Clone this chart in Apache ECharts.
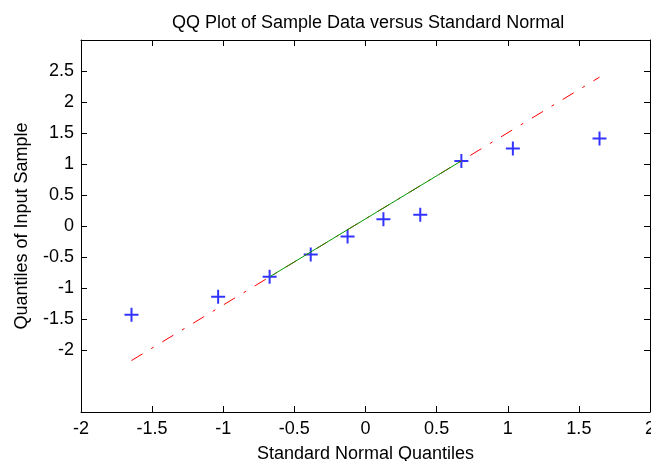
<!DOCTYPE html>
<html>
<head>
<meta charset="utf-8">
<script src="https://cdn.jsdelivr.net/npm/echarts@6/dist/echarts.min.js"></script>
<style>
html,body{margin:0;padding:0;background:#fff;}
#chart{width:651px;height:461px;}
</style>
</head>
<body>
<div id="chart"></div>
<script>
// Sample quantiles (blue + markers)
var normalQuantiles = [-1.645, -1.036, -0.674, -0.385, -0.126, 0.126, 0.385, 0.674, 1.036, 1.645];
var sampleQuantiles = [-1.43, -1.14, -0.82, -0.46, -0.17, 0.11, 0.18, 1.05, 1.25, 1.41];
// Extended fit line (red dash-dot)
var fitX = [-1.645, 1.645];
var fitY = [-2.17, 2.40];
// Inter-quartile line (green solid)
var iqrX = [-0.674, 0.674];
var iqrY = [-0.82, 1.05];
// Tick labels shown on the y axis
var yTickValues = [-2, -1.5, -1, -0.5, 0, 0.5, 1, 1.5, 2, 2.5];

function pairs(xs, ys){ return xs.map(function(x,i){ return [x, ys[i]]; }); }

var font = 'Liberation Sans, Arial, sans-serif';
var fs = 18;
var chart = echarts.init(document.getElementById('chart'), null, {renderer:'canvas'});
var axisLine = {show:true, onZero:false, lineStyle:{color:'#000', width:1}};
chart.setOption({
  animation:false,
  backgroundColor:'#fff',
  title:{
    text:'QQ Plot of Sample Data versus Standard Normal',
    left:167, top:9,
    textStyle:{fontFamily:font, fontSize:fs, fontWeight:'normal', color:'#000'}
  },
  grid:{left:81, right:1, top:40, bottom:49, containLabel:false, outerBoundsMode:'none'},
  xAxis:[{
    type:'value', position:'bottom', min:-2, max:2, interval:0.5,
    name:'Standard Normal Quantiles', nameLocation:'middle', nameGap:33,
    nameTextStyle:{fontFamily:font, fontSize:fs, color:'#000'},
    axisLine:axisLine,
    axisTick:{show:true, inside:true, length:6, lineStyle:{color:'#000'}},
    axisLabel:{fontFamily:font, fontSize:fs, color:'#000', margin:8},
    splitLine:{show:false}
  },{
    type:'value', position:'top', min:-2, max:2, interval:0.5,
    axisLine:axisLine,
    axisTick:{show:true, inside:true, length:6, lineStyle:{color:'#000'}},
    axisLabel:{show:false},
    splitLine:{show:false}
  }],
  yAxis:[{
    type:'value', position:'left', min:-3, max:3, interval:0.5,
    name:'Quantiles of Input Sample', nameLocation:'middle', nameGap:50,
    nameTextStyle:{fontFamily:font, fontSize:fs, color:'#000'},
    axisLine:axisLine,
    axisTick:{show:true, inside:true, length:6, customValues:yTickValues, lineStyle:{color:'#000'}},
    axisLabel:{fontFamily:font, fontSize:fs, color:'#000', margin:7, customValues:yTickValues},
    splitLine:{show:false}
  },{
    type:'value', position:'right', min:-3, max:3, interval:0.5,
    axisLine:axisLine,
    axisTick:{show:true, inside:true, length:6, customValues:yTickValues, lineStyle:{color:'#000'}},
    axisLabel:{show:false},
    splitLine:{show:false}
  }],
  series:[{
    type:'line', data:pairs(fitX, fitY), symbol:'none',
    lineStyle:{color:'#ff0000', width:1, type:[13,10,3,10]}
  },{
    type:'line', data:pairs(iqrX, iqrY), symbol:'none',
    lineStyle:{color:'#009900', width:1, type:'solid'}
  },{
    type:'scatter', data:pairs(normalQuantiles, sampleQuantiles),
    symbol:'path://M0,6H14V8H0Z M6,0H8V14H6Z', symbolSize:14,
    itemStyle:{color:'#0000ff'}
  }]
});
</script>
</body>
</html>
